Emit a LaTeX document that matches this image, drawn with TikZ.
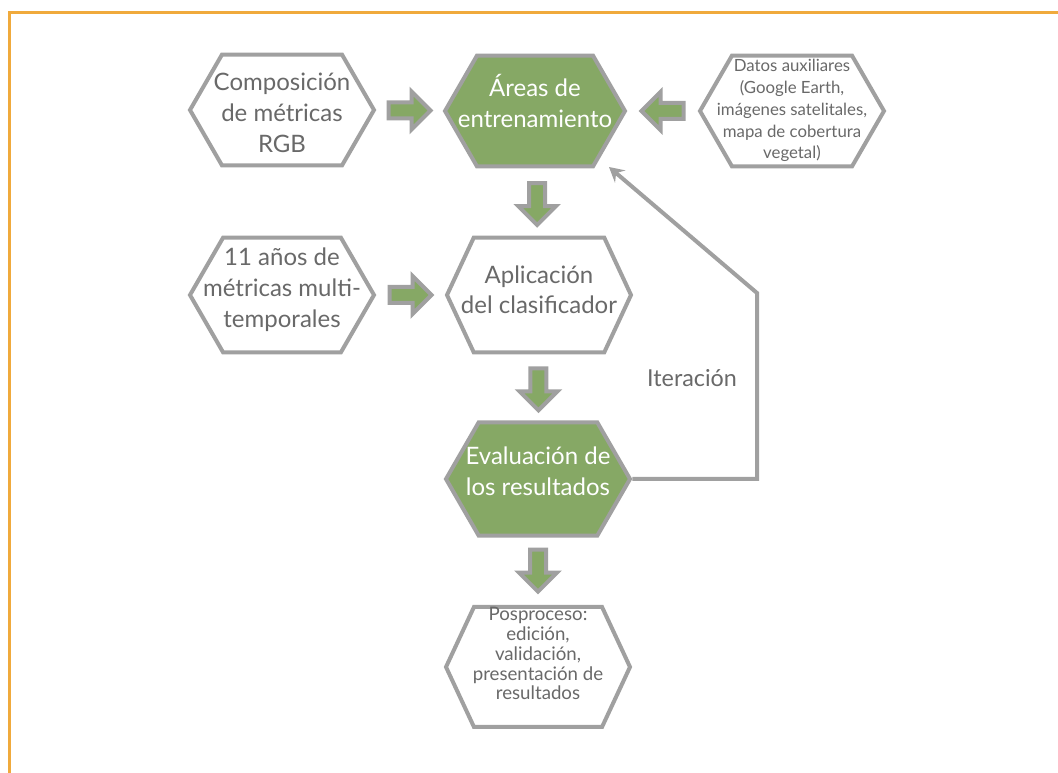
\documentclass[tikz,border=0pt]{standalone}
\usepackage{fontspec}
\setmainfont{Lato}
\usetikzlibrary{shapes.symbols,calc,arrows.meta}
\definecolor{hexgray}{RGB}{160,160,160}
\definecolor{hexgreen}{RGB}{134,168,101}
\definecolor{txtgray}{RGB}{105,105,105}
\definecolor{frameorange}{RGB}{240,170,60}
\newcommand\hextxt[2][0pt]{\raisebox{#1}[\height][\depth]{\makebox[30pt]{\begin{tabular}{@{}c@{}}#2\end{tabular}}}}
\begin{document}
\begin{tikzpicture}[x=0.75pt,y=-0.75pt,
  hexbox/.style={signal, signal to=west and east, signal pointer angle=120,
    draw=hexgray, line width=3pt, fill=white, text=txtgray,
    inner sep=0pt, minimum width=138pt, minimum height=83pt,
    font=\fontsize{18}{23}\selectfont},
  greenhex/.style={hexbox, fill=hexgreen, text=white},
  smallhex/.style={hexbox, font=\fontsize{12.6}{16.3}\selectfont},
  posthex/.style={hexbox, font=\fontsize{14}{14.8}\selectfont},
  iterline/.style={draw=hexgray, line width=3pt,
    -{Stealth[length=11pt,width=12pt,inset=4pt]}},
  lbl/.style={text=txtgray, font=\fontsize{17.5}{22.5}\selectfont},
  barrow/.pic={\draw[draw=hexgray, fill=hexgreen, line width=3pt, line join=miter]
    (-21,-8) -- (2,-8) -- (2,-19) -- (21,0) -- (2,19) -- (2,8) -- (-21,8) -- cycle;}
]
\useasboundingbox (0,0) rectangle (1058,773);
\fill[white] (0,0) rectangle (1058,773);
\draw[frameorange, line width=2.3pt] (9.5,773) |- (1058,12.5);

\node[hexbox]   (h1) at (282,110) {\hextxt[-4pt]{Composición\\de métricas\\RGB}};
\node[greenhex, minimum width=135pt] (h2) at (535,111) {\hextxt[4pt]{Áreas de\\entrenamiento}};
\node[smallhex] (h3) at (792,111) {\hextxt{Datos auxiliares\\(Google Earth,\\imágenes satelitales,\\mapa de cobertura\\vegetal)}};
\node[hexbox, minimum height=86pt]   (h4) at (282,295) {\hextxt[3.5pt]{11 años de\\métricas multi-\\temporales}};
\node[hexbox, minimum height=86pt, signal pointer angle=130] (h5) at (539,295) {\hextxt[2pt]{Aplicación\\del clasificador}};
\node[greenhex, minimum height=85pt] (h6) at (538,479) {\hextxt[4pt]{Evaluación de\\los resultados}};
\node[posthex, minimum height=90pt, signal pointer angle=130] (h7) at (538,667) {\hextxt[8pt]{Posproceso:\\edición,\\validación,\\presentación de\\resultados}};

\pic (a12) at ($(h1.east)!0.5!(h2.west)$) {barrow};
\pic[rotate=180] (a32) at ($(h2.east)!0.5!(h3.west)$) {barrow};
\pic (a45) at ($(h4.east)!0.5!(h5.west)$) {barrow};
\pic[rotate=-90] (a25) at ($(h2.south)!0.53!(h5.north)$) {barrow};
\pic[rotate=-90] (a56) at ($(h5.south)!0.53!(h6.north)$) {barrow};
\pic[rotate=-90] (a67) at ($(h6.south)!0.49!(h7.north)$) {barrow};

\coordinate (itc) at (757,293);
\coordinate (itend) at (609,167);
\draw[iterline] (h6.east) -| (itc) -- (itend);
\node[lbl] (it) at (692,378) {Iteración};
\end{tikzpicture}
\end{document}
